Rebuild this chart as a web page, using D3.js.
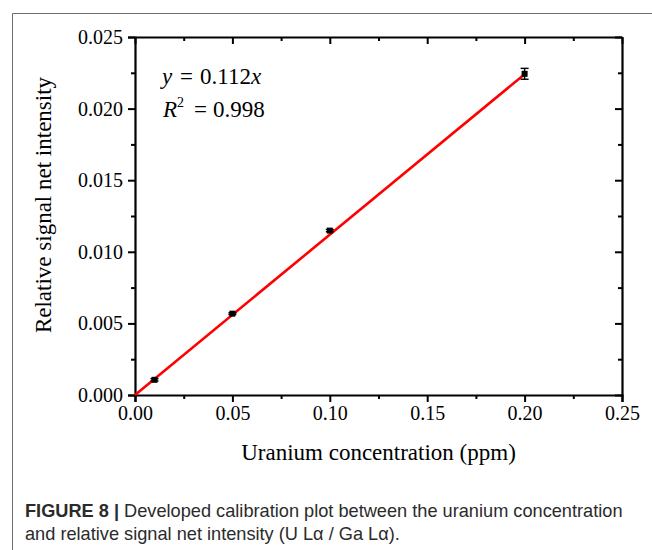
<!DOCTYPE html>
<html>
<head>
<meta charset="utf-8">
<script src="https://cdn.jsdelivr.net/npm/d3@7"></script>
<style>
  html, body { margin: 0; padding: 0; background: #fff; }
  svg { display: block; }
</style>
</head>
<body>
<script>
// Calibration data: uranium concentration (ppm) vs relative net intensity
const concentration = [0.01, 0.05, 0.10, 0.20];
const intensity = [0.00106, 0.00568, 0.01148, 0.02243];
const intensityErr = [0.00008, 0.00006, 0.00008, 0.00038];
const slope = 0.112;
const fitRange = [0, 0.20];
const xTicks = [0, 0.05, 0.10, 0.15, 0.20, 0.25];
const yTicks = [0, 0.005, 0.010, 0.015, 0.020, 0.025];

(function () {
const W = 652, H = 550;
const svg = d3.select("body").append("svg").attr("width", W).attr("height", H);

// Figure frame
svg.append("path").attr("d", `M12.5,${H} V13.5 H${W}`)
  .attr("fill", "none").attr("stroke", "#6e6e6e").attr("stroke-width", 1);

const pl = 135, pr = 622, pt = 37, pb = 395;
const x = d3.scaleLinear().domain([0, 0.25]).range([pl, pr]);
const y = d3.scaleLinear().domain([0, 0.025]).range([pb, pt]);

const serif = "'Liberation Serif', 'Times New Roman', serif";

function minorTicks(step, max) {
  const out = [];
  for (let v = step / 2; v < max; v += step) out.push(+v.toFixed(5));
  return out;
}
const xMinor = minorTicks(0.05, 0.25);
const yMinor = minorTicks(0.005, 0.025);

// Bottom axis
svg.append("g").attr("transform", `translate(0,${pb})`)
  .call(d3.axisBottom(x).tickValues(xTicks).tickFormat(d3.format(".2f")).tickSize(7).tickPadding(4));
svg.append("g").attr("transform", `translate(0,${pb})`)
  .call(d3.axisBottom(x).tickValues(xMinor).tickFormat("").tickSize(4))
  .select(".domain").remove();
// Left axis
svg.append("g").attr("transform", `translate(${pl},0)`)
  .call(d3.axisLeft(y).tickValues(yTicks).tickFormat(d3.format(".3f")).tickSize(7).tickPadding(5));
svg.append("g").attr("transform", `translate(${pl},0)`)
  .call(d3.axisLeft(y).tickValues(yMinor).tickFormat("").tickSize(4))
  .select(".domain").remove();
// Mirrored top and right axes with inward ticks
svg.append("g").attr("transform", `translate(0,${pt})`)
  .call(d3.axisBottom(x).tickValues(xTicks).tickFormat("").tickSize(7).tickSizeOuter(0));
svg.append("g").attr("transform", `translate(0,${pt})`)
  .call(d3.axisBottom(x).tickValues(xMinor).tickFormat("").tickSize(4))
  .select(".domain").remove();
svg.append("g").attr("transform", `translate(${pr},0)`)
  .call(d3.axisLeft(y).tickValues(yTicks).tickFormat("").tickSize(7).tickSizeOuter(0))
  .selectAll(".tick line").attr("x2", -7);
svg.append("g").attr("transform", `translate(${pr},0)`)
  .call(d3.axisLeft(y).tickValues(yMinor).tickFormat("").tickSize(4))
  .call(g => g.select(".domain").remove())
  .selectAll(".tick line").attr("x2", -4);

svg.selectAll(".domain").attr("stroke", "#000").attr("stroke-width", 2.2);
svg.selectAll(".tick line").attr("stroke", "#000").attr("stroke-width", 2);
svg.selectAll("g").attr("font-family", serif).attr("font-size", 20);
svg.selectAll(".tick text").attr("font-family", serif).attr("font-size", 20).attr("fill", "#000");

// Fitted line y = 0.112x
svg.append("line")
  .attr("x1", x(fitRange[0])).attr("y1", y(slope * fitRange[0]))
  .attr("x2", x(fitRange[1])).attr("y2", y(slope * fitRange[1]))
  .attr("stroke", "#f00").attr("stroke-width", 2.6);

// Error bars and markers
const pts = concentration.map((c, i) => ({ c, v: intensity[i], e: intensityErr[i] }));
const eb = svg.append("g").attr("stroke", "#000").attr("stroke-width", 1.4);
pts.forEach(p => {
  eb.append("line").attr("x1", x(p.c)).attr("x2", x(p.c)).attr("y1", y(p.v + p.e)).attr("y2", y(p.v - p.e));
  [p.v + p.e, p.v - p.e].forEach(v => eb.append("line")
    .attr("x1", x(p.c) - 4).attr("x2", x(p.c) + 4).attr("y1", y(v)).attr("y2", y(v)));
});
svg.append("g").selectAll("rect").data(pts).join("rect")
  .attr("x", d => x(d.c) - 3).attr("y", d => y(d.v) - 3)
  .attr("width", 6).attr("height", 6).attr("fill", "#000");

// Regression text
const eq = svg.append("text").attr("y", 84)
  .attr("font-family", serif).attr("font-size", 23).attr("fill", "#000");
eq.append("tspan").attr("x", 162).attr("font-style", "italic").text("y");
eq.append("tspan").attr("x", 180).text("=");
eq.append("tspan").attr("x", 200).text("0.112");
eq.append("tspan").attr("font-style", "italic").text("x");
const r2 = svg.append("text").attr("y", 117)
  .attr("font-family", serif).attr("font-size", 23).attr("fill", "#000");
r2.append("tspan").attr("x", 163).attr("font-style", "italic").text("R");
r2.append("tspan").attr("x", 177).attr("font-size", 14).attr("dy", -10).text("2");
r2.append("tspan").attr("x", 194).attr("dy", 10).text("=");
r2.append("tspan").attr("x", 213).text("0.998");

// Axis titles
svg.append("text").attr("x", (pl + pr) / 2).attr("y", 460)
  .attr("text-anchor", "middle").attr("font-family", serif).attr("font-size", 23)
  .text("Uranium concentration (ppm)");
svg.append("text").attr("transform", "translate(51,205) rotate(-90)")
  .attr("text-anchor", "middle").attr("font-family", serif).attr("font-size", 23)
  .text("Relative signal net intensity");

// Caption
const sans = "'Liberation Sans', Arial, sans-serif";
const c1 = svg.append("text").attr("x", 25).attr("y", 517)
  .attr("font-family", sans).attr("font-size", 18.2).attr("fill", "#2b2b2b");
c1.append("tspan").attr("font-weight", "bold").text("FIGURE 8 | ");
c1.append("tspan").text("Developed calibration plot between the uranium concentration");
svg.append("text").attr("x", 25).attr("y", 540)
  .attr("font-family", sans).attr("font-size", 18.2).attr("fill", "#2b2b2b")
  .text("and relative signal net intensity (U L\u03b1 / Ga L\u03b1).");
})();
</script>
</body>
</html>
